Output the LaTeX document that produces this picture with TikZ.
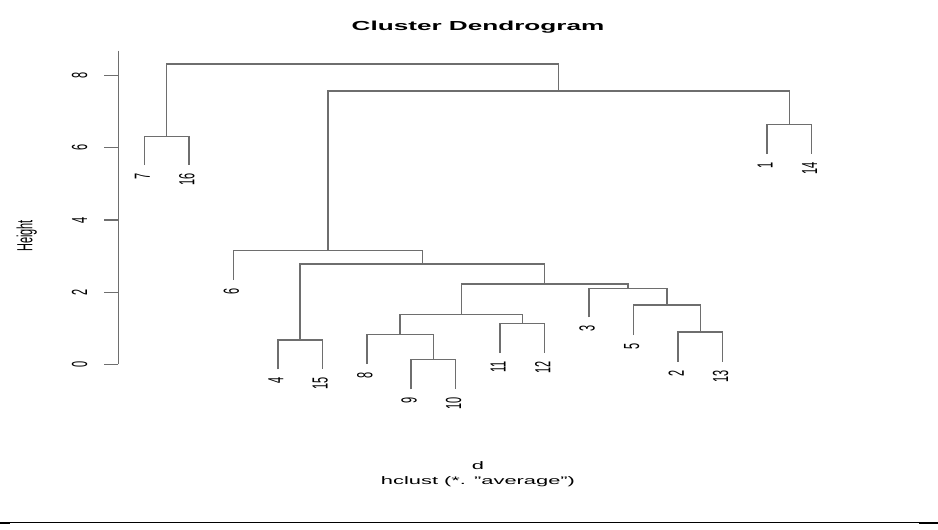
\documentclass[tikz,border=0pt]{standalone}
\usepackage{fontspec}
\setmainfont{Liberation Sans}
\usepackage{graphicx}
\definecolor{treegray}{RGB}{110,110,110}
\newcommand{\hstr}[1]{\scalebox{2}[1]{#1}}
\newcommand{\vlab}[1]{\scalebox{2}[1]{\rotatebox{90}{#1}}}
\begin{document}
\begin{tikzpicture}[x=0.75pt,y=-0.75pt,
  tree/.style={line width=1.15pt, draw=treegray},
  leaflab/.style={inner sep=0pt, anchor=north, font=\fontsize{8.2}{9}\selectfont},
  ticklab/.style={inner sep=0pt, anchor=center, font=\fontsize{8.2}{9}\selectfont},
  txt/.style={inner sep=0pt, font=\fontsize{8.2}{9}\selectfont}]
\useasboundingbox (0,0) rectangle (938,529);
% leaf ends
\coordinate (L7)  at (144.3,165);
\coordinate (L16) at (188.8,165);
\coordinate (L6)  at (233.3,280);
\coordinate (L4)  at (277.8,369.3);
\coordinate (L15) at (322.3,369.3);
\coordinate (L8)  at (366.8,364);
\coordinate (L9)  at (411.2,389.3);
\coordinate (L10) at (455.7,389.3);
\coordinate (L11) at (500.2,353);
\coordinate (L12) at (544.7,353);
\coordinate (L3)  at (589.2,317.3);
\coordinate (L5)  at (633.7,335);
\coordinate (L2)  at (678.2,361.7);
\coordinate (L13) at (722.7,361.7);
\coordinate (L1)  at (767.2,154);
\coordinate (L14) at (811.7,154);
% merges
\coordinate (m716)  at (166.55,136.3);
\coordinate (m213)  at (700.45,332);
\coordinate (m5)    at (667.1,305);
\coordinate (m3)    at (628.15,288.3);
\coordinate (m910)  at (433.45,359.3);
\coordinate (m8)    at (400.1,334.7);
\coordinate (m1112) at (522.45,323.3);
\coordinate (m811)  at (461.3,314.3);
\coordinate (mA)    at (544.7,284);
\coordinate (m415)  at (300.05,340);
\coordinate (mB)    at (422.4,264);
\coordinate (m6)    at (327.85,250.7);
\coordinate (m114)  at (789.45,124.7);
\coordinate (mC)    at (558.65,91);
\coordinate (mTop)  at (362.6,64);
% tree
\draw[tree] (L7) |- (m716) -| (L16);
\draw[tree] (L1) |- (m114) -| (L14);
\draw[tree] (L2) |- (m213) -| (L13);
\draw[tree] (L5) |- (m5) -| (m213);
\draw[tree] (L3) |- (m3) -| (m5);
\draw[tree] (L9) |- (m910) -| (L10);
\draw[tree] (L8) |- (m8) -| (m910);
\draw[tree] (L11) |- (m1112) -| (L12);
\draw[tree] (m8) |- (m811) -| (m1112);
\draw[tree] (m811) |- (mA) -| (m3);
\draw[tree] (L4) |- (m415) -| (L15);
\draw[tree] (m415) |- (mB) -| (mA);
\draw[tree] (L6) |- (m6) -| (mB);
\draw[tree] (m6) |- (mC) -| (m114);
\draw[tree] (m716) |- (mTop) -| (mC);
% leaf labels
\node[leaflab] (t7)  at ([xshift=-1.5pt,yshift=-6pt]L7)  {\vlab{7}};
\node[leaflab] (t16) at ([xshift=-1.5pt,yshift=-6pt]L16) {\vlab{16}};
\node[leaflab] (t6)  at ([xshift=-1.5pt,yshift=-6pt]L6)  {\vlab{6}};
\node[leaflab] (t4)  at ([xshift=-1.5pt,yshift=-6pt]L4)  {\vlab{4}};
\node[leaflab] (t15) at ([xshift=-1.5pt,yshift=-6pt]L15) {\vlab{15}};
\node[leaflab] (t8)  at ([xshift=-1.5pt,yshift=-6pt]L8)  {\vlab{8}};
\node[leaflab] (t9)  at ([xshift=-1.5pt,yshift=-6pt]L9)  {\vlab{9}};
\node[leaflab] (t10) at ([xshift=-1.5pt,yshift=-6pt]L10) {\vlab{10}};
\node[leaflab] (t11) at ([xshift=-1.5pt,yshift=-6pt]L11) {\vlab{11}};
\node[leaflab] (t12) at ([xshift=-1.5pt,yshift=-6pt]L12) {\vlab{12}};
\node[leaflab] (t3)  at ([xshift=-1.5pt,yshift=-6pt]L3)  {\vlab{3}};
\node[leaflab] (t5)  at ([xshift=-1.5pt,yshift=-6pt]L5)  {\vlab{5}};
\node[leaflab] (t2)  at ([xshift=-1.5pt,yshift=-6pt]L2)  {\vlab{2}};
\node[leaflab] (t13) at ([xshift=-1.5pt,yshift=-6pt]L13) {\vlab{13}};
\node[leaflab] (t1)  at ([xshift=-1.5pt,yshift=-6pt]L1)  {\vlab{1}};
\node[leaflab] (t14) at ([xshift=-1.5pt,yshift=-6pt]L14) {\vlab{14}};
% axis
\coordinate (axtop) at (118.3,50.7);
\coordinate (axbot) at (118.3,364.3);
\draw[tree] (axtop) -- (axbot);
\foreach \h/\yy in {0/364.3,2/292.3,4/220,6/147.7,8/75.3}{
  \coordinate (tk\h) at (118.3,\yy);
  \draw[tree] (tk\h) -- ++(-14,0);
  \node[ticklab] (yl\h) at (79.5,\yy) {\vlab{\h}};
}
\node[ticklab] (ylab) at (26.7,236) {\vlab{Height}};
% title and sub
\node[inner sep=0pt, anchor=base, font=\fontsize{9.8}{11}\selectfont\bfseries] (title) at (478,30.5) {\hstr{Cluster Dendrogram}};
\node[txt, anchor=base] (dlab) at (478,469.3) {\hstr{d}};
\node[txt, anchor=base] (sub) at (478,484) {\hstr{hclust (*. "average")}};
% bottom rule
\draw[line width=0.75pt] (0,522.6) -- (938,522.6);
\fill (0,521.7) rectangle (10,524);
\fill (918.7,522.3) rectangle (938,524.3);
\end{tikzpicture}
\end{document}
